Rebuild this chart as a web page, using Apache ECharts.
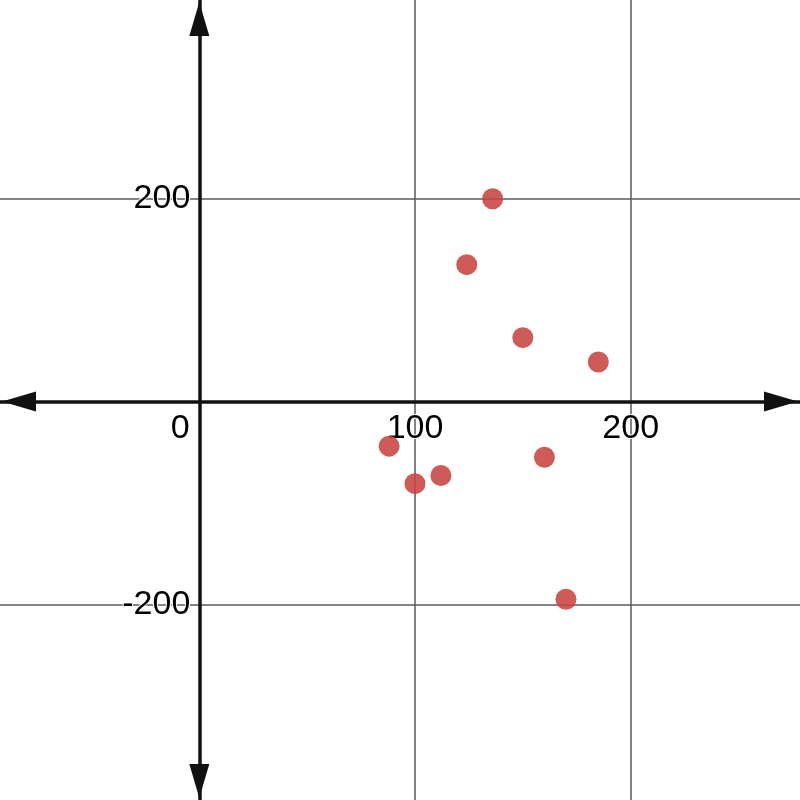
<!DOCTYPE html>
<html>
<head>
<meta charset="utf-8">
<script src="https://cdn.jsdelivr.net/npm/echarts@6/dist/echarts.min.js"></script>
<style>
html,body{margin:0;padding:0;background:#fff;}
#chart{width:800px;height:800px;}
</style>
</head>
<body>
<div id="chart"></div>
<script>
// Data
const xValues = [136, 124, 150, 185, 88, 100, 112, 160, 170];
const yValues = [200, 135, 63, 39, -44, -81, -73, -55, -195];

// Axis extents and tick / label values
const xRange = [-92.4, 278.5];
const yRange = [-393, 396];
const xGridValues = [100, 200];
const xLabelValues = [0, 100, 200];
const yGridValues = [-200, 200];
const yLabelValues = [-200, 200];

const FONT = '"Liberation Sans", Arial, sans-serif';
const FS = 34;
const W = 800, H = 800;

// place each axis at the other axis' zero (via the axis offset)
const xZeroPx = (0 - xRange[0]) / (xRange[1] - xRange[0]) * W;
const yZeroPx = (yRange[1] - 0) / (yRange[1] - yRange[0]) * H;

const chart = echarts.init(document.getElementById('chart'), null, {renderer: 'canvas'});

const axisLineCommon = {
  show: true,
  onZero: false,
  lineStyle: {color: '#111', width: 3.5},
  symbol: ['triangle', 'triangle'],
  symbolSize: [20, 34],
  symbolOffset: [19, -19]
};

chart.setOption({
  animation: false,
  backgroundColor: '#fff',
  grid: {left: 0, right: 0, top: 0, bottom: 0, containLabel: false, outerBoundsMode: 'none'},
  xAxis: {
    type: 'value',
    position: 'bottom',
    offset: -(H - yZeroPx),
    min: xRange[0],
    max: xRange[1],
    axisLine: axisLineCommon,
    axisTick: {show: false, customValues: xGridValues},
    axisLabel: {
      customValues: xLabelValues,
      margin: 10,
      fontSize: FS,
      fontFamily: FONT,
      color: '#000',
      textBorderColor: '#fff',
      textBorderWidth: 2,
      formatter: function (v) { return v === 0 ? '{z|0}' : String(v); },
      rich: {
        z: {fontSize: FS, fontFamily: FONT, color: '#000', padding: [0, 38, 0, 0],
            textBorderColor: '#fff', textBorderWidth: 2}
      }
    },
    splitLine: {show: true, lineStyle: {color: '#5a5a5a', width: 1.5}}
  },
  yAxis: {
    type: 'value',
    position: 'left',
    offset: -xZeroPx,
    min: yRange[0],
    max: yRange[1],
    axisLine: axisLineCommon,
    axisTick: {show: false, customValues: yGridValues},
    axisLabel: {
      customValues: yLabelValues,
      margin: 9,
      fontSize: FS,
      fontFamily: FONT,
      color: '#000',
      textBorderColor: '#fff',
      textBorderWidth: 2
    },
    splitLine: {show: true, lineStyle: {color: '#5a5a5a', width: 1.5}}
  },
  series: [{
    type: 'scatter',
    data: xValues.map(function (x, i) { return [x, yValues[i]]; }),
    symbol: 'circle',
    symbolSize: 21,
    itemStyle: {color: '#c74440', opacity: 0.88}
  }]
});
</script>
</body>
</html>
